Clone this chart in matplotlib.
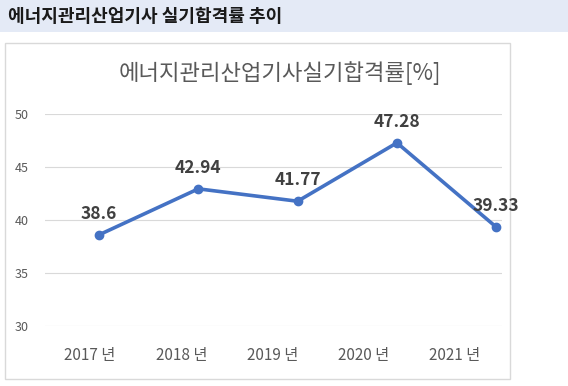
import matplotlib
matplotlib.use("Agg")
import matplotlib.pyplot as plt
from matplotlib.patches import Rectangle

plt.rcParams['font.family'] = ['Noto Sans CJK KR', 'DejaVu Sans']

# 데이터
years = ["2017 년", "2018 년", "2019 년", "2020 년", "2021 년"]
rates = [38.6, 42.94, 41.77, 47.28, 39.33]
rate_labels = ["38.6", "42.94", "41.77", "47.28", "39.33"]
yticks = [30, 35, 40, 45, 50]

W, H = 568, 386
fig = plt.figure(figsize=(W / 100, H / 100), dpi=100)
fig.patch.set_facecolor("white")

# 상단 제목 띠
fig.patches.append(Rectangle((0, 1 - 32 / H), 1, 32 / H, transform=fig.transFigure,
                             facecolor="#E4EAF6", edgecolor="none", zorder=0))
fig.text(8 / W, 1 - 16 / H, "에너지관리산업기사 실기합격률 추이", fontsize=13,
         fontweight="bold", color="#1A1A1A", ha="left", va="center")

# 차트 테두리
fig.patches.append(Rectangle((5 / W, 1 - 379 / H), 505 / W, 336 / H, transform=fig.transFigure,
                             facecolor="white", edgecolor="#D9D9D9", linewidth=1, zorder=0))

ax = fig.add_axes([45 / W, 1 - 326 / H, 457 / W, 212 / H])
ax.set_zorder(2)
ax.set_facecolor("none")

x = list(range(len(rates)))
ax.plot(x, rates, color="#4472C4", linewidth=2.6, marker="o", markersize=6, zorder=3,
        clip_on=False)
for xi, v, t in zip(x, rates, rate_labels):
    ax.annotate(t, (xi, v), xytext=(0, 15), textcoords="offset points", ha="center",
                va="center", fontsize=12.5, fontweight="bold", color="#404040", zorder=4)

ax.set_ylim(30, 50)
ax.set_xlim(-0.544, 4.058)
ax.set_yticks(yticks)
ax.grid(axis="y", color="#D9D9D9", linewidth=0.8)
ax.set_axisbelow(True)
for s in ax.spines.values():
    s.set_visible(False)
ax.tick_params(axis="y", length=0, pad=12, labelsize=9, labelcolor="#595959")
# x 라벨 위치 (원본은 점보다 약간 왼쪽)
ax.set_xticks([-0.09 + 0.918 * i for i in x])
ax.set_xticklabels(years)
ax.tick_params(axis="x", length=0, pad=15, labelsize=11, labelcolor="#595959")

fig.text(280 / W, 1 - 73 / H, "에너지관리산업기사실기합격률[%]", fontsize=16,
         color="#595959", ha="center", va="center")

plt.savefig("out.png", dpi=100)
